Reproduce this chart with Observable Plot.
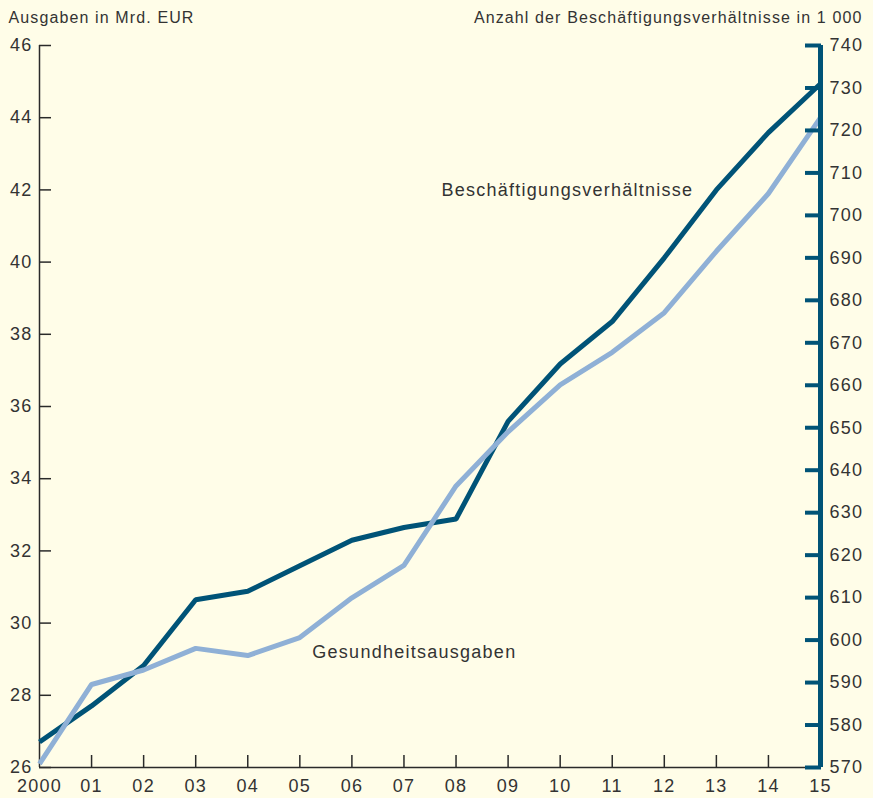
<!DOCTYPE html>
<html><head><meta charset="utf-8">
<script src="https://cdn.jsdelivr.net/npm/d3@7"></script>
<script src="https://cdn.jsdelivr.net/npm/@observablehq/plot@0.6"></script>
<style>
html,body{margin:0;padding:0;background:#fffde8;}
#chart svg text{letter-spacing:0.07em;}
</style></head><body><div id="chart"></div>
<script>
const years = [2000,2001,2002,2003,2004,2005,2006,2007,2008,2009,2010,2011,2012,2013,2014,2015];
const yearLabels = ["2000","01","02","03","04","05","06","07","08","09","10","11","12","13","14","15"];
const health = [26.1,28.3,28.7,29.3,29.1,29.6,30.7,31.6,33.8,35.3,36.6,37.5,38.6,40.3,41.9,44.0];
const jobs = [576,584.5,594,609.5,611.5,617.5,623.5,626.5,628.5,651.5,665,675,690,706,719.5,731];
const leftTicks = [26,28,30,32,34,36,38,40,42,44,46];
const rightTicks = [570,580,590,600,610,620,630,640,650,660,670,680,690,700,710,720,730,740];
const leftDomain = [26,46];
const rightDomain = [570,740];
const seriesNames = ["Beschäftigungsverhältnisse","Gesundheitsausgaben"];
const labelPos = [{name:"Beschäftigungsverhältnisse", year:2007.72, value:42.0},
                  {name:"Gesundheitsausgaben", year:2005.24, value:29.2}];
const leftTitle = "Ausgaben in Mrd. EUR";
const rightTitle = "Anzahl der Beschäftigungsverhältnisse in 1 000";

const dark = "#005377", light = "#8fb0d6", ink = "#333333";
const k = (leftDomain[1]-leftDomain[0])/(rightDomain[1]-rightDomain[0]);
const toLeft = v => leftDomain[0] + (v-rightDomain[0])*k;
const toRight = v => Math.round(rightDomain[0] + (v-leftDomain[0])/k);

const jobsData = years.map((y,i)=>({year:y, v:toLeft(jobs[i])}));
const healthData = years.map((y,i)=>({year:y, v:health[i]}));
const labelOf = new Map(years.map((y,i)=>[y, yearLabels[i]]));

const chart = Plot.plot({
  width: 873, height: 798,
  marginLeft: 39, marginRight: 53, marginTop: 45, marginBottom: 31,
  style: {background:"#fffde8", color: ink, fontFamily:"'Liberation Sans', Arial, sans-serif", fontSize:"18px"},
  x: {domain:[years[0], years[years.length-1]], axis:null},
  y: {domain:leftDomain, axis:null},
  marks: [
    Plot.ruleX([years[0]], {stroke:"#2a2a2a", strokeWidth:1.5}),
    Plot.ruleY([leftDomain[0]], {stroke:"#2a2a2a", strokeWidth:1.5}),
    Plot.axisY(leftTicks, {anchor:"left", tickSize:-12, stroke:"#2a2a2a", strokeWidth:1.5, text:null, label:null}),
    Plot.axisY(leftTicks, {anchor:"left", tickSize:0, tickPadding:7, fontSize:18, label:null, fill:ink}),
    Plot.axisX(years.slice(1,-1), {anchor:"bottom", tickSize:-12, stroke:"#2a2a2a", strokeWidth:1.5, text:null, label:null}),
    Plot.axisX(years, {anchor:"bottom", tickSize:0, tickPadding:12, fontSize:18, label:null, fill:ink, tickFormat:d=>labelOf.get(d)}),
    Plot.line(jobsData, {x:"year", y:"v", stroke:dark, strokeWidth:5, strokeLinejoin:"miter", strokeLinecap:"butt"}),
    Plot.line(healthData, {x:"year", y:"v", stroke:light, strokeWidth:5, strokeLinejoin:"miter", strokeLinecap:"butt"}),
    Plot.ruleX([years[years.length-1]], {stroke:dark, strokeWidth:5}),
    Plot.axisY(rightTicks.map(toLeft), {anchor:"right", tickSize:-16, stroke:dark, strokeWidth:4, text:null, label:null}),
    Plot.axisY(rightTicks.map(toLeft), {anchor:"right", tickSize:0, tickPadding:9, fontSize:18, label:null, fill:ink, tickFormat:d=>String(toRight(d))}),
    Plot.text(labelPos, {x:"year", y:"value", text:"name", textAnchor:"start", fontSize:18, fill:ink}),
    Plot.text([leftTitle], {frameAnchor:"top-left", textAnchor:"start", lineAnchor:"bottom", dx:-31, dy:-23, fontSize:16, fill:ink}),
    Plot.text([rightTitle], {frameAnchor:"top-right", textAnchor:"end", lineAnchor:"bottom", dx:42, dy:-23, fontSize:16, fill:ink})
  ]
});
document.getElementById("chart").appendChild(chart);
</script></body></html>
